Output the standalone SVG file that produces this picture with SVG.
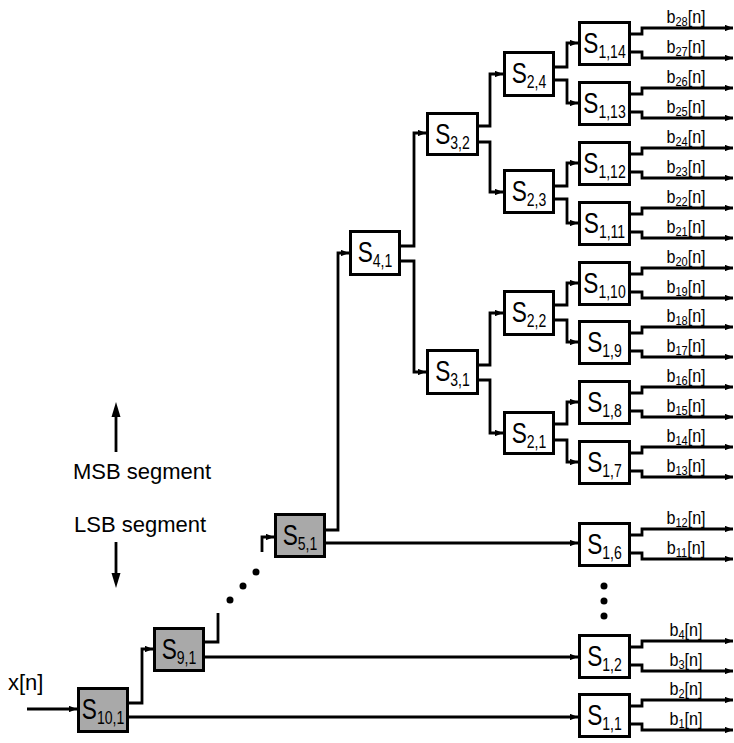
<svg xmlns="http://www.w3.org/2000/svg" width="734" height="743" viewBox="0 0 734 743">
<style>
.box{fill:#fff;stroke:#000;stroke-width:3}
.g{fill:#a9a9a9}
.c path{fill:none;stroke:#000;stroke-width:2.8}
.c path.a{marker-end:url(#ah)}
text{font-family:"Liberation Sans",Arial,sans-serif;fill:#000}
.lbl{font-size:29px;text-anchor:middle}
.sub{font-size:18px}
.bl{font-size:19px;text-anchor:middle}
.bs{font-size:13px}
.tx{font-size:22px}
</style>
<defs>
<marker id="ah" markerUnits="userSpaceOnUse" viewBox="0 0 10 8" markerWidth="8" markerHeight="6.5" refX="10" refY="4" orient="auto">
<path d="M0,0 L10,4 L0,8 z" fill="#000"/>
</marker>
</defs>

<g id="x_in"><text class="tx" x="8" y="690">x[n]</text></g>

<g id="msb"><line x1="116" y1="452" x2="116" y2="412" stroke="#000" stroke-width="2.8"/><polygon points="116,402 111.5,417 120.5,417" fill="#000"/><text class="tx" x="73" y="479">MSB segment</text></g>
<g id="lsb"><text class="tx" x="74" y="532">LSB segment</text><line x1="116" y1="542" x2="116" y2="578" stroke="#000" stroke-width="2.8"/><polygon points="116,588 111.5,573 120.5,573" fill="#000"/></g>

<g id="dots" fill="#000">
<circle cx="230" cy="600" r="3.5"/><circle cx="243" cy="586" r="3.5"/><circle cx="256" cy="572" r="3.5"/>
<circle cx="604" cy="586" r="3.5"/><circle cx="604" cy="601" r="3.5"/><circle cx="604" cy="616" r="3.5"/>
</g>

<g class="c" id="connectors">
<path class="a" d="M27,709 H77"/>
<path class="a" d="M129,703 H142 V649 H153"/>
<path class="a" d="M129,717 H578"/>
<path d="M205,642 H218 V613"/>
<path class="a" d="M205,657 H578"/>
<path class="a" d="M262,552 V537 H274"/>
<path class="a" d="M326,530 H338 V253 H349"/>
<path class="a" d="M326,543 H578"/>
<path class="a" d="M401,246 H414 V133 H426"/>
<path class="a" d="M401,261 H414 V372 H426"/>
<path class="a" d="M479,126 H490 V74 H503"/>
<path class="a" d="M479,142 H490 V192 H503"/>
<path class="a" d="M479,365 H490 V313 H503"/>
<path class="a" d="M479,380 H490 V433 H503"/>
<path class="a" d="M555,67 H567 V43 H578"/>
<path class="a" d="M555,80 H567 V103 H578"/>
<path class="a" d="M555,186 H567 V163 H578"/>
<path class="a" d="M555,199 H567 V223 H578"/>
<path class="a" d="M555,305 H567 V283 H578"/>
<path class="a" d="M555,320 H567 V342 H578"/>
<path class="a" d="M555,424 H567 V402 H578"/>
<path class="a" d="M555,440 H567 V462 H578"/>
<path class="a" d="M631,34 H642 V28 H733"/><path class="a" d="M631,52 H642 V58 H733"/>
<path class="a" d="M631,94 H642 V88 H733"/><path class="a" d="M631,112 H642 V118 H733"/>
<path class="a" d="M631,154 H642 V148 H733"/><path class="a" d="M631,172 H642 V178 H733"/>
<path class="a" d="M631,214 H642 V208 H733"/><path class="a" d="M631,232 H642 V238 H733"/>
<path class="a" d="M631,274 H642 V268 H733"/><path class="a" d="M631,292 H642 V298 H733"/>
<path class="a" d="M631,333 H642 V327 H733"/><path class="a" d="M631,351 H642 V357 H733"/>
<path class="a" d="M631,393 H642 V387 H733"/><path class="a" d="M631,411 H642 V417 H733"/>
<path class="a" d="M631,453 H642 V447 H733"/><path class="a" d="M631,471 H642 V477 H733"/>
<path class="a" d="M631,535 H642 V529 H733"/><path class="a" d="M631,553 H642 V559 H733"/>
<path class="a" d="M631,647 H642 V641 H733"/><path class="a" d="M631,665 H642 V671 H733"/>
<path class="a" d="M631,706 H642 V700 H733"/><path class="a" d="M631,724 H642 V730 H733"/>
</g>

<g id="S10_1"><rect class="box g" x="78.5" y="688.5" width="49" height="43"/><text class="lbl" transform="translate(103,719) scale(0.78,1)">S<tspan class="sub" dy="5">10,1</tspan></text></g>
<g id="S9_1"><rect class="box g" x="154.5" y="628.5" width="49" height="42"/><text class="lbl" transform="translate(179,659) scale(0.78,1)">S<tspan class="sub" dy="5">9,1</tspan></text></g>
<g id="S5_1"><rect class="box g" x="275.5" y="514.5" width="49" height="42"/><text class="lbl" transform="translate(300,545) scale(0.78,1)">S<tspan class="sub" dy="5">5,1</tspan></text></g>
<g id="S4_1"><rect class="box" x="350.5" y="231.5" width="49" height="43"/><text class="lbl" transform="translate(375,262) scale(0.78,1)">S<tspan class="sub" dy="5">4,1</tspan></text></g>
<g id="S3_2"><rect class="box" x="427.5" y="113.5" width="50" height="41"/><text class="lbl" transform="translate(452.5,144) scale(0.78,1)">S<tspan class="sub" dy="5">3,2</tspan></text></g>
<g id="S3_1"><rect class="box" x="427.5" y="350.5" width="50" height="43"/><text class="lbl" transform="translate(452.5,381) scale(0.78,1)">S<tspan class="sub" dy="5">3,1</tspan></text></g>
<g id="S2_4"><rect class="box" x="504.5" y="52.5" width="49" height="43"/><text class="lbl" transform="translate(529,83) scale(0.78,1)">S<tspan class="sub" dy="5">2,4</tspan></text></g>
<g id="S2_3"><rect class="box" x="504.5" y="170.5" width="49" height="42"/><text class="lbl" transform="translate(529,201) scale(0.78,1)">S<tspan class="sub" dy="5">2,3</tspan></text></g>
<g id="S2_2"><rect class="box" x="504.5" y="291.5" width="49" height="43"/><text class="lbl" transform="translate(529,322) scale(0.78,1)">S<tspan class="sub" dy="5">2,2</tspan></text></g>
<g id="S2_1"><rect class="box" x="504.5" y="412.5" width="49" height="41"/><text class="lbl" transform="translate(529,443) scale(0.78,1)">S<tspan class="sub" dy="5">2,1</tspan></text></g>

<g id="S1_14"><rect class="box" x="579.5" y="22.5" width="50" height="42"/><text class="lbl" transform="translate(604.5,53) scale(0.78,1)">S<tspan class="sub" dy="5">1,14</tspan></text></g>
<g id="S1_13"><rect class="box" x="579.5" y="82.5" width="50" height="42"/><text class="lbl" transform="translate(604.5,113) scale(0.78,1)">S<tspan class="sub" dy="5">1,13</tspan></text></g>
<g id="S1_12"><rect class="box" x="579.5" y="142.5" width="50" height="42"/><text class="lbl" transform="translate(604.5,173) scale(0.78,1)">S<tspan class="sub" dy="5">1,12</tspan></text></g>
<g id="S1_11"><rect class="box" x="579.5" y="202.5" width="50" height="42"/><text class="lbl" transform="translate(604.5,233) scale(0.78,1)">S<tspan class="sub" dy="5">1,11</tspan></text></g>
<g id="S1_10"><rect class="box" x="579.5" y="262.5" width="50" height="42"/><text class="lbl" transform="translate(604.5,293) scale(0.78,1)">S<tspan class="sub" dy="5">1,10</tspan></text></g>
<g id="S1_9"><rect class="box" x="579.5" y="321.5" width="50" height="42"/><text class="lbl" transform="translate(604.5,352) scale(0.78,1)">S<tspan class="sub" dy="5">1,9</tspan></text></g>
<g id="S1_8"><rect class="box" x="579.5" y="381.5" width="50" height="42"/><text class="lbl" transform="translate(604.5,412) scale(0.78,1)">S<tspan class="sub" dy="5">1,8</tspan></text></g>
<g id="S1_7"><rect class="box" x="579.5" y="441.5" width="50" height="42"/><text class="lbl" transform="translate(604.5,472) scale(0.78,1)">S<tspan class="sub" dy="5">1,7</tspan></text></g>
<g id="S1_6"><rect class="box" x="579.5" y="523.5" width="50" height="42"/><text class="lbl" transform="translate(604.5,554) scale(0.78,1)">S<tspan class="sub" dy="5">1,6</tspan></text></g>
<g id="S1_2"><rect class="box" x="579.5" y="635.5" width="50" height="42"/><text class="lbl" transform="translate(604.5,666) scale(0.78,1)">S<tspan class="sub" dy="5">1,2</tspan></text></g>
<g id="S1_1"><rect class="box" x="579.5" y="694.5" width="50" height="42"/><text class="lbl" transform="translate(604.5,725) scale(0.78,1)">S<tspan class="sub" dy="5">1,1</tspan></text></g>

<g id="labels">
<text class="bl" transform="translate(686,23) scale(0.85,1)">b<tspan class="bs" dy="3">28</tspan><tspan dy="-3">[n]</tspan></text>
<text class="bl" transform="translate(686,53) scale(0.85,1)">b<tspan class="bs" dy="3">27</tspan><tspan dy="-3">[n]</tspan></text>
<text class="bl" transform="translate(686,83) scale(0.85,1)">b<tspan class="bs" dy="3">26</tspan><tspan dy="-3">[n]</tspan></text>
<text class="bl" transform="translate(686,113) scale(0.85,1)">b<tspan class="bs" dy="3">25</tspan><tspan dy="-3">[n]</tspan></text>
<text class="bl" transform="translate(686,143) scale(0.85,1)">b<tspan class="bs" dy="3">24</tspan><tspan dy="-3">[n]</tspan></text>
<text class="bl" transform="translate(686,173) scale(0.85,1)">b<tspan class="bs" dy="3">23</tspan><tspan dy="-3">[n]</tspan></text>
<text class="bl" transform="translate(686,203) scale(0.85,1)">b<tspan class="bs" dy="3">22</tspan><tspan dy="-3">[n]</tspan></text>
<text class="bl" transform="translate(686,233) scale(0.85,1)">b<tspan class="bs" dy="3">21</tspan><tspan dy="-3">[n]</tspan></text>
<text class="bl" transform="translate(686,263) scale(0.85,1)">b<tspan class="bs" dy="3">20</tspan><tspan dy="-3">[n]</tspan></text>
<text class="bl" transform="translate(686,293) scale(0.85,1)">b<tspan class="bs" dy="3">19</tspan><tspan dy="-3">[n]</tspan></text>
<text class="bl" transform="translate(686,322) scale(0.85,1)">b<tspan class="bs" dy="3">18</tspan><tspan dy="-3">[n]</tspan></text>
<text class="bl" transform="translate(686,352) scale(0.85,1)">b<tspan class="bs" dy="3">17</tspan><tspan dy="-3">[n]</tspan></text>
<text class="bl" transform="translate(686,382) scale(0.85,1)">b<tspan class="bs" dy="3">16</tspan><tspan dy="-3">[n]</tspan></text>
<text class="bl" transform="translate(686,412) scale(0.85,1)">b<tspan class="bs" dy="3">15</tspan><tspan dy="-3">[n]</tspan></text>
<text class="bl" transform="translate(686,442) scale(0.85,1)">b<tspan class="bs" dy="3">14</tspan><tspan dy="-3">[n]</tspan></text>
<text class="bl" transform="translate(686,472) scale(0.85,1)">b<tspan class="bs" dy="3">13</tspan><tspan dy="-3">[n]</tspan></text>
<text class="bl" transform="translate(686,524) scale(0.85,1)">b<tspan class="bs" dy="3">12</tspan><tspan dy="-3">[n]</tspan></text>
<text class="bl" transform="translate(686,554) scale(0.85,1)">b<tspan class="bs" dy="3">11</tspan><tspan dy="-3">[n]</tspan></text>
<text class="bl" transform="translate(686,636) scale(0.85,1)">b<tspan class="bs" dy="3">4</tspan><tspan dy="-3">[n]</tspan></text>
<text class="bl" transform="translate(686,666) scale(0.85,1)">b<tspan class="bs" dy="3">3</tspan><tspan dy="-3">[n]</tspan></text>
<text class="bl" transform="translate(686,695) scale(0.85,1)">b<tspan class="bs" dy="3">2</tspan><tspan dy="-3">[n]</tspan></text>
<text class="bl" transform="translate(686,725) scale(0.85,1)">b<tspan class="bs" dy="3">1</tspan><tspan dy="-3">[n]</tspan></text>
</g>
</svg>
